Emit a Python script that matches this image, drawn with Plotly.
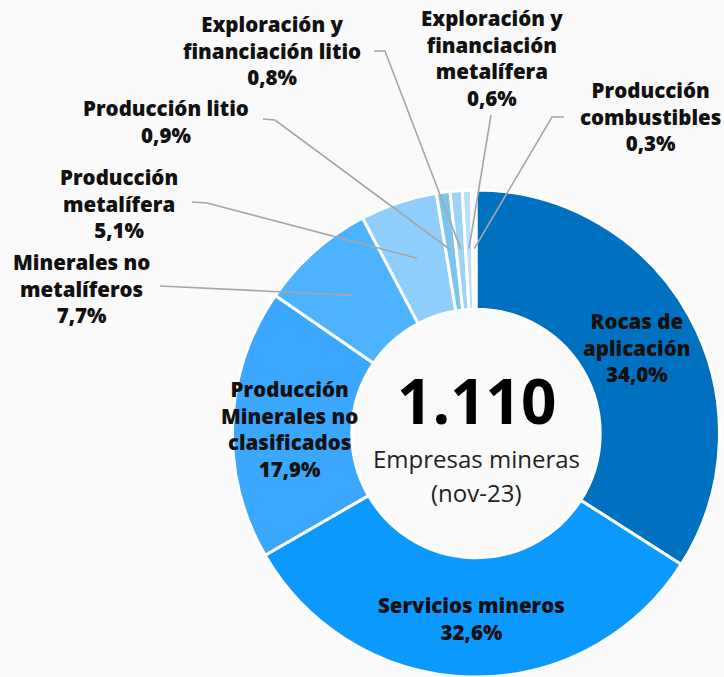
import math
import plotly.graph_objects as go

# ---- data ----
categories = [
    "Rocas de aplicación",
    "Servicios mineros",
    "Producción Minerales no clasificados",
    "Minerales no metalíferos",
    "Producción metalífera",
    "Producción litio",
    "Exploración y financiación litio",
    "Exploración y financiación metalífera",
    "Producción combustibles",
]
display_names = [
    "Rocas de<br>aplicación",
    "Servicios mineros",
    "Producción<br>Minerales no<br>clasificados",
    "Minerales no<br>metalíferos",
    "Producción<br>metalífera",
    "Producción litio",
    "Exploración y<br>financiación litio",
    "Exploración y<br>financiación<br>metalífera",
    "Producción<br>combustibles",
]
shares = [34.0, 32.6, 17.9, 7.7, 5.1, 0.9, 0.8, 0.6, 0.3]
colors = ["#0070C0", "#0B98FF", "#3BA7FF", "#4DB2FF", "#8FCDFD",
          "#7CC4F0", "#9DD3F4", "#BCE0F7", "#E4F2FC"]
total_companies = "1.110"
center_sub = ["Empresas mineras", "(nov-23)"]

# ---- layout geometry (pixels) ----
W, H = 724, 677
CX, CY, R = 476, 434, 244
FONT = "Open Sans, sans-serif"
TXT = "#111111"
LINE = "#A6A6A6"


def fx(x):
    return x / W


def fy(y):
    return 1 - y / H


fig = go.Figure()
fig.add_trace(go.Pie(
    labels=categories,
    values=shares,
    sort=False,
    direction="clockwise",
    rotation=0,
    hole=0.51,
    marker=dict(colors=colors, line=dict(color="#FFFFFF", width=3)),
    textinfo="none",
    domain=dict(x=[fx(CX - R), fx(CX + R)], y=[max(0, fy(CY + R)), fy(CY - R)]),
    showlegend=False,
))


def fmt(v):
    return f"{v:.1f}".replace(".", ",") + "%"


# label anchor positions (pixel centre of text block)
label_pos = {
    0: (637, 347),
    1: (471, 618),
    2: (289, 429),
    3: (81, 288),
    4: (119, 203),
    5: (166, 121),
    6: (272, 51),
    7: (492, 58),
    8: (650, 117),
}
# leader line start points (near label) and elbow points
leaders = {
    3: [(160, 286)],
    4: [(192, 202), (207, 203)],
    5: [(263, 119), (275, 120)],
    6: [(374, 51), (385, 51)],
    7: [(491, 115)],
    8: [(564, 117), (552, 117)],
}

annotations = []
for i, (x, y) in label_pos.items():
    annotations.append(dict(
        x=fx(x), y=fy(y), xref="paper", yref="paper",
        text=f"{display_names[i]}<br>{fmt(shares[i])}",
        showarrow=False, xanchor="center", yanchor="middle",
        font=dict(family=FONT, size=20.5, color=TXT, weight=800),
        align="center",
    ))

tot = sum(shares)
shapes = []
for i, pts in leaders.items():
    cum = sum(shares[:i]) + shares[i] / 2
    ang = 2 * math.pi * cum / tot
    rr = R * 0.76
    ex = CX + rr * math.sin(ang)
    ey = CY - rr * math.cos(ang)
    allp = pts + [(ex, ey)]
    path = "M " + " L ".join(f"{fx(px):.5f},{fy(py):.5f}" for px, py in allp)
    shapes.append(dict(type="path", path=path, xref="paper", yref="paper",
                       line=dict(color=LINE, width=1.6)))

# centre text
annotations.append(dict(
    x=fx(CX), y=fy(400), xref="paper", yref="paper", text=total_companies,
    showarrow=False, xanchor="center", yanchor="middle",
    font=dict(family=FONT, size=62, color="#000000", weight="bold"),
))
annotations.append(dict(
    x=fx(CX), y=fy(458), xref="paper", yref="paper", text=center_sub[0],
    showarrow=False, xanchor="center", yanchor="middle",
    font=dict(family=FONT, size=24, color="#222222"),
))
annotations.append(dict(
    x=fx(CX), y=fy(492), xref="paper", yref="paper", text=center_sub[1],
    showarrow=False, xanchor="center", yanchor="middle",
    font=dict(family=FONT, size=24, color="#222222"),
))

fig.update_layout(
    width=W, height=H,
    margin=dict(l=0, r=0, t=0, b=0),
    paper_bgcolor="#FAFAFA",
    plot_bgcolor="#FAFAFA",
    annotations=annotations,
    shapes=shapes,
)

fig.write_html(
    "out.html",
    config={"displayModeBar": False},
    post_script="document.body.style.margin='0';document.body.style.padding='0';"
                "document.body.style.overflow='hidden';",
)
